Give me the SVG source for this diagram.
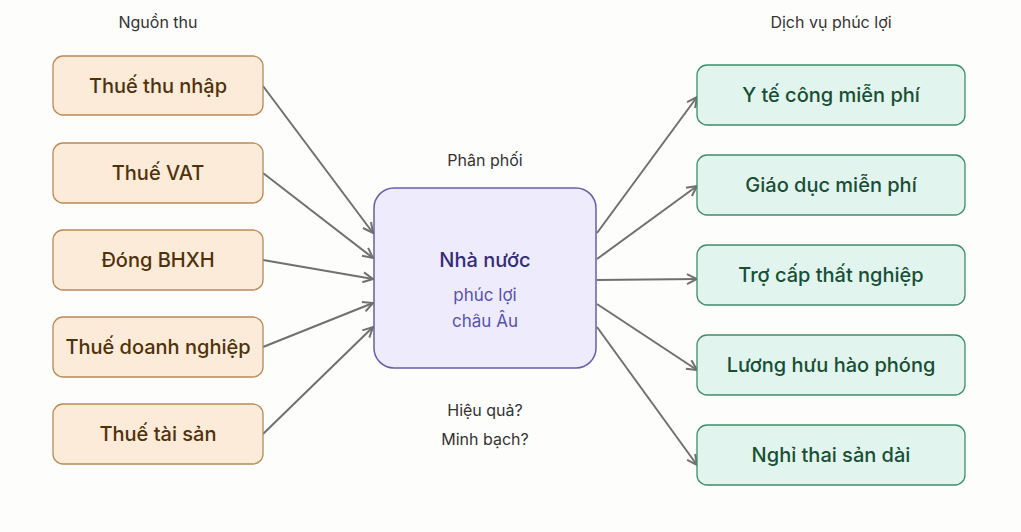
<svg xmlns="http://www.w3.org/2000/svg" width="1021" height="532" viewBox="0 0 1021 532">
<style>
text{font-family:"Inter","Liberation Sans",sans-serif;text-anchor:middle}
.l rect{fill:#fcebd8;stroke:#b88a58;stroke-width:1.3}
.l text{fill:#4f320b;font-size:20px;font-weight:500}
.r rect{fill:#e2f4ee;stroke:#3f8c6c;stroke-width:1.3}
.r text{fill:#174f35;font-size:20px;font-weight:500}
.h{fill:#333;font-size:16px}
.c line{stroke:#707070;stroke-width:2;marker-end:url(#a)}
</style>
<defs><marker id="a" viewBox="0 0 12 12" refX="11" refY="6" markerWidth="12" markerHeight="12" markerUnits="userSpaceOnUse" orient="auto"><path d="M1,1 L11,6 L1,11" fill="none" stroke="#707070" stroke-width="2"/></marker></defs>
<rect width="1021" height="532" fill="#fdfdfb"/>
<text class="h" x="158" y="28">Nguồn thu</text>
<text class="h" x="831" y="28">Dịch vụ phúc lợi</text>
<text class="h" x="485" y="166">Phân phối</text>
<text class="h" x="485" y="416">Hiệu quả?</text>
<text class="h" x="485" y="445">Minh bạch?</text>
<g class="c">
<line x1="263" y1="86" x2="373" y2="233"/>
<line x1="263" y1="173" x2="373" y2="258"/>
<line x1="263" y1="260" x2="373" y2="279"/>
<line x1="263" y1="347" x2="373" y2="303"/>
<line x1="263" y1="434" x2="373" y2="327"/>
<line x1="597" y1="233" x2="697" y2="97"/>
<line x1="597" y1="259" x2="697" y2="186"/>
<line x1="597" y1="280" x2="697" y2="279"/>
<line x1="597" y1="304" x2="697" y2="370"/>
<line x1="597" y1="327" x2="697" y2="465"/>
</g>
<g id="center"><rect x="374" y="188" width="222" height="180" rx="20" fill="#eeecfc" stroke="#6a5cac" stroke-width="1.5"/>
<text x="485" y="267" font-size="20" font-weight="500" fill="#342d78">Nhà nước</text>
<text x="485" y="301" font-size="17" fill="#5a50b0">phúc lợi</text>
<text x="485" y="327" font-size="17" fill="#5a50b0">châu Âu</text></g>
<g id="l1" class="l"><rect x="53" y="56" width="210" height="59" rx="10"/><text x="158" y="93">Thuế thu nhập</text></g>
<g id="l2" class="l"><rect x="53" y="143" width="210" height="60" rx="10"/><text x="158" y="180">Thuế VAT</text></g>
<g id="l3" class="l"><rect x="53" y="230" width="210" height="60" rx="10"/><text x="158" y="267">Đóng BHXH</text></g>
<g id="l4" class="l"><rect x="53" y="317" width="210" height="60" rx="10"/><text x="158" y="354">Thuế doanh nghiệp</text></g>
<g id="l5" class="l"><rect x="53" y="404" width="210" height="60" rx="10"/><text x="158" y="441">Thuế tài sản</text></g>
<g id="r1" class="r"><rect x="697" y="65" width="268" height="60" rx="10"/><text x="831" y="102">Y tế công miễn phí</text></g>
<g id="r2" class="r"><rect x="697" y="155" width="268" height="60" rx="10"/><text x="831" y="192">Giáo dục miễn phí</text></g>
<g id="r3" class="r"><rect x="697" y="245" width="268" height="60" rx="10"/><text x="831" y="282">Trợ cấp thất nghiệp</text></g>
<g id="r4" class="r"><rect x="697" y="335" width="268" height="60" rx="10"/><text x="831" y="372">Lương hưu hào phóng</text></g>
<g id="r5" class="r"><rect x="697" y="425" width="268" height="60" rx="10"/><text x="831" y="462">Nghỉ thai sản dài</text></g>
</svg>
